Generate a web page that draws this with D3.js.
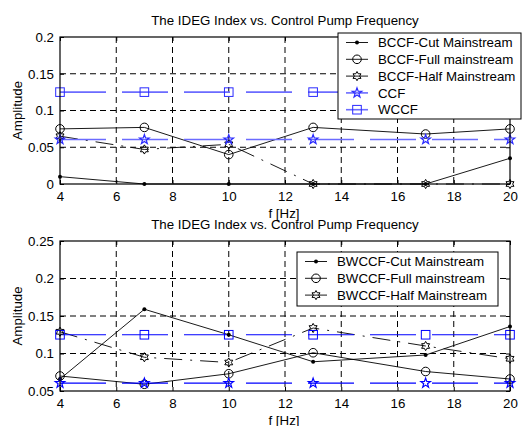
<!DOCTYPE html>
<html>
<head>
<meta charset="utf-8">
<script src="https://d3js.org/d3.v7.min.js"></script>
<style>
  body { margin: 0; background: #fff; }
  svg { font-family: "Liberation Sans", Arial, sans-serif; }
  .grid line { stroke: #000; stroke-dasharray: 6,4; stroke-width: 1; }
</style>
</head>
<body>
<svg width="522" height="426"></svg>
<script>
// frequencies on the x axis (Hz)
const freq = [4, 7, 10, 13, 17, 20];
const xTicks = [4, 6, 8, 10, 12, 14, 16, 18, 20];

// top panel
const bccfCut  = [0.010, 0.000, 0.000, 0.000, 0.000, 0.035];
const bccfFull = [0.075, 0.077, 0.040, 0.077, 0.068, 0.075];
const bccfHalf = [0.065, 0.047, 0.054, 0.000, 0.000, 0.000];
const ccfTop   = [0.0605, 0.0605, 0.0605, 0.0605, 0.0605, 0.0605];
const wccfTop  = [0.125, 0.125, 0.125, 0.125, 0.125, 0.125];
const topTicks = [0, 0.05, 0.1, 0.15, 0.2];

// bottom panel
const bwccfCut  = [0.066, 0.159, 0.125, 0.089, 0.098, 0.136];
const bwccfFull = [0.070, 0.059, 0.073, 0.101, 0.076, 0.066];
const bwccfHalf = [0.129, 0.095, 0.088, 0.134, 0.110, 0.093];
const ccfBot    = [0.0605, 0.0605, 0.0605, 0.0605, 0.0605, 0.0605];
const wccfBot   = [0.125, 0.125, 0.125, 0.125, 0.125, 0.125];
const botTicks  = [0.05, 0.1, 0.15, 0.2, 0.25];

const titleText = "The IDEG Index vs. Control Pump Frequency";
const FS = 13.3;

const svg = d3.select("svg");

// marker shapes
function hexagram(r) {
  const pts = [];
  for (let i = 0; i < 12; i++) {
    const a = -Math.PI / 2 + i * Math.PI / 6;
    const rr = i % 2 === 0 ? r : r / Math.sqrt(3);
    pts.push([rr * Math.cos(a), rr * Math.sin(a)]);
  }
  return "M" + pts.map(p => p.join(",")).join("L") + "Z";
}
function pentagram(r) {
  const pts = [];
  for (let i = 0; i < 10; i++) {
    const a = -Math.PI / 2 + i * Math.PI / 5;
    const rr = i % 2 === 0 ? r : r * 0.4;
    pts.push([rr * Math.cos(a), rr * Math.sin(a)]);
  }
  return "M" + pts.map(p => p.join(",")).join("L") + "Z";
}

function drawMarker(g, kind, x, y, color) {
  if (kind === "dot") {
    g.append("circle").attr("cx", x).attr("cy", y).attr("r", 2).attr("fill", color);
  } else if (kind === "circle") {
    g.append("circle").attr("cx", x).attr("cy", y).attr("r", 4.3)
      .attr("fill", "none").attr("stroke", color).attr("stroke-width", 1);
  } else if (kind === "square") {
    g.append("rect").attr("x", x - 4.3).attr("y", y - 4.3).attr("width", 8.6).attr("height", 8.6)
      .attr("fill", "none").attr("stroke", color).attr("stroke-width", 1);
  } else if (kind === "hex") {
    g.append("path").attr("d", hexagram(4.6)).attr("transform", `translate(${x},${y})`)
      .attr("fill", "none").attr("stroke", color).attr("stroke-width", 1);
  } else if (kind === "star") {
    g.append("path").attr("d", pentagram(5)).attr("transform", `translate(${x},${y})`)
      .attr("fill", "none").attr("stroke", color).attr("stroke-width", 1.2);
  }
}

/*
  One subplot: axes box, dashed grid, series and legend
*/
function drawPanel(cfg) {
  const x = d3.scaleLinear().domain([4, 20]).range([60, 510]);
  const y = d3.scaleLinear().domain(cfg.domain).range([cfg.bottom, cfg.top]);
  const g = svg.append("g");

  // grid
  const grid = g.append("g").attr("class", "grid");
  grid.selectAll(".gx").data(xTicks.slice(1, -1)).enter().append("line")
    .attr("x1", d => x(d)).attr("x2", d => x(d)).attr("y1", cfg.top).attr("y2", cfg.bottom);
  grid.selectAll(".gy").data(cfg.ticks.slice(1, -1)).enter().append("line")
    .attr("x1", 60).attr("x2", 510).attr("y1", d => y(d)).attr("y2", d => y(d));

  // axes
  const xAxis = g.append("g").attr("transform", `translate(0,${cfg.bottom})`)
    .call(d3.axisBottom(x).tickValues(xTicks).tickSizeInner(-4).tickSizeOuter(0).tickPadding(8));
  const yAxis = g.append("g").attr("transform", "translate(60,0)")
    .call(d3.axisLeft(y).tickValues(cfg.ticks).tickFormat(d => d3.format("~g")(+d.toFixed(2)))
      .tickSizeInner(-4).tickSizeOuter(0).tickPadding(6));
  [xAxis, yAxis].forEach(a => {
    a.select(".domain").remove();
    a.selectAll("text").attr("font-size", FS).attr("fill", "#000")
      .attr("font-family", "Liberation Sans, Arial, sans-serif");
    a.selectAll("line").attr("stroke", "#000");
  });
  // ticks on top and right
  g.append("g").attr("transform", `translate(0,${cfg.top})`)
    .call(d3.axisTop(x).tickValues(xTicks).tickSizeInner(-4).tickSizeOuter(0).tickFormat(""))
    .select(".domain").remove();
  g.append("g").attr("transform", "translate(510,0)")
    .call(d3.axisRight(y).tickValues(cfg.ticks).tickSizeInner(-4).tickSizeOuter(0).tickFormat(""))
    .select(".domain").remove();

  // series
  const line = d3.line().x((d, i) => x(freq[i])).y(d => y(d));
  cfg.series.forEach(s => {
    g.append("path").datum(s.values).attr("d", line)
      .attr("fill", "none").attr("stroke", s.color).attr("stroke-width", s.width)
      .attr("stroke-dasharray", s.dash || null);
  });
  cfg.series.forEach(s => {
    s.values.forEach((v, i) => drawMarker(g, s.marker, x(freq[i]), y(v), s.mcolor || s.color));
  });

  // box
  g.append("rect").attr("x", 60).attr("y", cfg.top).attr("width", 450).attr("height", cfg.bottom - cfg.top)
    .attr("fill", "none").attr("stroke", "#000").attr("stroke-width", 1.2);

  // titles
  g.append("text").attr("x", 285).attr("y", cfg.top - 12).attr("text-anchor", "middle")
    .attr("font-size", FS).text(titleText);
  g.append("text").attr("x", 284).attr("y", cfg.bottom + 34).attr("text-anchor", "middle")
    .attr("font-size", FS).text("f [Hz]");
  g.append("text").attr("transform", `translate(22,${(cfg.top + cfg.bottom) / 2}) rotate(-90)`)
    .attr("text-anchor", "middle").attr("font-size", FS).text("Amplitude");

  // legend
  const L = cfg.legend;
  const lg = svg.append("g");
  lg.append("rect").attr("x", L.x).attr("y", L.y).attr("width", L.w).attr("height", L.h)
    .attr("fill", "#fff").attr("stroke", "#000").attr("stroke-width", 1);
  cfg.series.filter(s => s.name).forEach((s, i) => {
    const ry = L.y + L.first + i * L.step;
    lg.append("line").attr("x1", L.x + 8).attr("x2", L.x + 30).attr("y1", ry).attr("y2", ry)
      .attr("stroke", s.color).attr("stroke-width", s.width);
    drawMarker(lg, s.marker, L.x + 19, ry, s.mcolor || s.color);
    lg.append("text").attr("x", L.x + 40).attr("y", ry + 4.6).attr("font-size", FS).text(s.name);
  });
}

drawPanel({
  top: 37, bottom: 184, domain: [0, 0.2], ticks: topTicks,
  series: [
    { name: "BCCF-Cut Mainstream", values: bccfCut, color: "#000", width: 0.9, marker: "dot" },
    { name: "BCCF-Full mainstream", values: bccfFull, color: "#000", width: 0.9, marker: "circle" },
    { name: "BCCF-Half Mainstream", values: bccfHalf, color: "#000", width: 0.9, marker: "hex", dash: "18,8,2,8" },
    { name: "CCF", values: ccfTop, color: "#6b6bff", mcolor: "#2a2aff", width: 1.6, marker: "star", dash: "46,16" },
    { name: "WCCF", values: wccfTop, color: "#6b6bff", mcolor: "#2a2aff", width: 1.6, marker: "square", dash: "46,16" }
  ],
  legend: { x: 338, y: 33, w: 183, h: 86, first: 9.5, step: 16.8 }
});

drawPanel({
  top: 241, bottom: 391, domain: [0.05, 0.25], ticks: botTicks,
  series: [
    { name: "BWCCF-Cut Mainstream", values: bwccfCut, color: "#000", width: 0.9, marker: "dot" },
    { name: "BWCCF-Full mainstream", values: bwccfFull, color: "#000", width: 0.9, marker: "circle" },
    { name: "BWCCF-Half Mainstream", values: bwccfHalf, color: "#000", width: 0.9, marker: "hex", dash: "18,8,2,8" },
    { name: null, values: ccfBot, color: "#0000ff", width: 1.2, marker: "star", dash: "46,16" },
    { name: null, values: wccfBot, color: "#0000ff", width: 1.2, marker: "square", dash: "46,16" }
  ],
  legend: { x: 297, y: 252, w: 201, h: 54, first: 9.5, step: 16.8 }
});
</script>
</body>
</html>
